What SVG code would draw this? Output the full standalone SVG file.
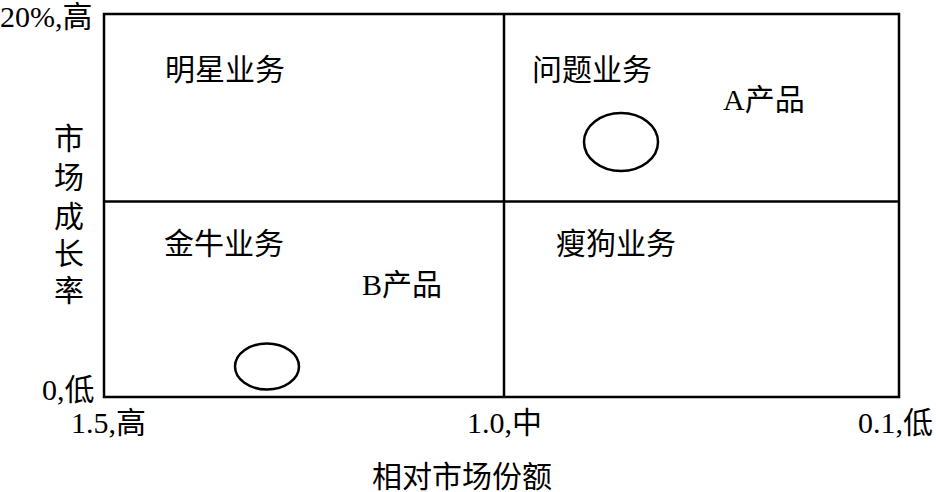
<svg xmlns="http://www.w3.org/2000/svg" width="936" height="492" viewBox="0 0 936 492">
<style>
text{font-family:"Liberation Serif","Noto Sans CJK SC",serif;font-size:30px;fill:#000}
.ln{stroke:#000;stroke-width:2.5;fill:none}
.el{stroke:#000;stroke-width:2.5;fill:#fff}
</style>
<rect width="936" height="492" fill="#fff"/>
<g id="connectors">
<rect class="ln" x="104" y="14" width="795" height="383"/>
<line class="ln" x1="504" y1="14" x2="504" y2="397"/>
<line class="ln" x1="104" y1="201.5" x2="899" y2="201.5"/>
</g>
<g id="star"><text x="165" y="80">明星业务</text></g>
<g id="question"><text x="532" y="80">问题业务</text></g>
<g id="cow"><text x="164" y="254">金牛业务</text></g>
<g id="dog"><text x="556" y="254">瘦狗业务</text></g>
<g id="productA">
<text x="723" y="110">A产品</text>
<ellipse class="el" cx="621" cy="142" rx="37" ry="29"/>
</g>
<g id="productB">
<text x="362" y="295">B产品</text>
<ellipse class="el" cx="267" cy="366.5" rx="32" ry="23"/>
</g>
<g id="yaxis">
<text x="0" y="27">20%,高</text>
<text x="42" y="400">0,低</text>
<g text-anchor="middle">
<text x="69" y="149">市</text>
<text x="69" y="188">场</text>
<text x="69" y="227">成</text>
<text x="69" y="264">长</text>
<text x="69" y="301">率</text>
</g>
</g>
<g id="xaxis">
<text x="71" y="433">1.5,高</text>
<text x="467" y="433">1.0,中</text>
<text x="858" y="433">0.1,低</text>
<text x="372" y="487">相对市场份额</text>
</g>
</svg>
